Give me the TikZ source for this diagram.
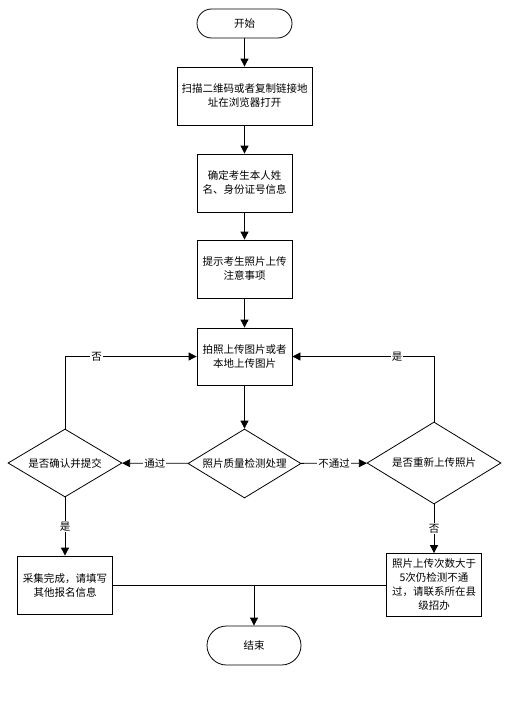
\documentclass[tikz,border=0pt]{standalone}
\usepackage{fontspec}
\newfontfamily\cjk{Noto Sans CJK SC}
\usetikzlibrary{shapes.geometric,arrows.meta}
\begin{document}
\begin{tikzpicture}[x=1pt,y=-1pt,font=\cjk\fontsize{10.5}{14}\selectfont]
\tikzstyle{lien}=[-{Triangle[length=8pt,width=8pt]},line width=0.8pt]
\tikzset{etape/.style={draw,line width=0.8pt,align=center,inner sep=0pt,minimum width=#1,minimum height=58pt},
etape/.default={95pt},
borne/.style={draw,line width=0.8pt,rounded corners=#1,minimum width=95pt,minimum height=2*#1},
test/.style={draw,line width=0.8pt,diamond,aspect=1.65,inner sep=0pt,align=center},
mot/.style={fill=white,inner sep=1pt}}
\useasboundingbox (0,0) rectangle (515,704);
\node[borne=14.5pt] (debut) at (244.5,23.5) {开始};
\node[etape=135pt] (scan) at (244.5,96) {扫描二维码或者复制链接地\\址在浏览器打开};
\node[etape] (identite) at (244.5,183) {确定考生本人姓\\名、身份证号信息};
\node[etape] (consigne) at (244.5,269) {提示考生照片上传\\注意事项};
\node[etape,minimum height=57pt] (photo) at (244.5,356.5) {拍照上传图片或者\\本地上传图片};
\node[test,minimum width=113pt,minimum height=69pt] (qualite) at (244.5,463.5) {照片质量检测处理};
\node[test,minimum width=114pt,minimum height=68pt] (confirme) at (65,463) {是否确认并提交};
\node[test,minimum width=134pt,minimum height=82pt] (reprise) at (434,463) {是否重新上传照片};
\node[etape] (fini) at (65,585) {采集完成，请填写\\其他报名信息};
\node[etape,minimum height=63pt] (echec) at (434,585) {照片上传次数大于\\5次仍检测不通\\过，请联系所在县\\级招办};
\node[borne=19.5pt,minimum width=94pt] (fin) at (254,645.5) {结束};

\draw[lien] (debut) -- (scan);
\draw[lien] (scan) -- (identite);
\draw[lien] (identite) -- (consigne);
\draw[lien] (consigne) -- (photo);
\draw[lien] (photo) -- (qualite);
\draw[lien] (qualite) -- node[mot]{通过} (confirme);
\draw[lien] (qualite) -- node[mot]{不通过} (reprise);
\draw[lien] (confirme.north) |- node[mot,pos=0.62]{否} (photo.west);
\draw[lien] (reprise.north) |- node[mot,pos=0.63]{是} (photo.east);
\draw[lien] (confirme) -- node[mot]{是} (fini);
\draw[lien] (reprise) -- node[mot]{否} (echec);
\draw[line width=0.8pt] (fini.east) -- (echec.west);
\draw[lien] (fin.north |- fini.east) -- (fin);
\end{tikzpicture}
\end{document}
